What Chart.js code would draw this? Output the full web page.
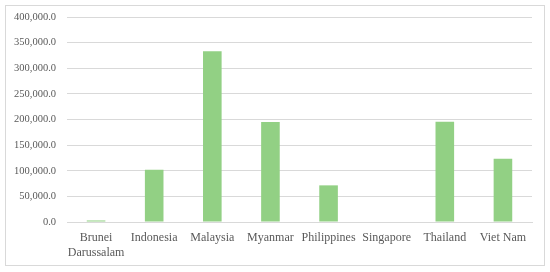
<!DOCTYPE html>
<html>
<head>
<meta charset="utf-8">
<script src="https://cdn.jsdelivr.net/npm/chart.js@4/dist/chart.umd.min.js"></script>
<style>
  html, body { margin: 0; padding: 0; background: #fff; }
  #box {
    position: absolute; left: 5px; top: 5px;
    width: 538px; height: 259px;
    border: 1px solid #d9d9d9;
  }
</style>
</head>
<body>
<div id="box"><canvas id="barChart"></canvas></div>
<script>
// countries on the x axis
var countries = [['Brunei', 'Darussalam'], 'Indonesia', 'Malaysia', 'Myanmar', 'Philippines', 'Singapore', 'Thailand', 'Viet Nam'];
// values
var values = [3000, 102000, 333000, 195000, 71500, 0, 195500, 123500];
// y axis ticks
var yMin = 0;
var yMax = 400000;
var yStep = 50000;

var textColor = '#595959';
var gridColor = '#d9d9d9';
var serif = '"Liberation Serif", "DejaVu Serif", serif';

var ctx = document.getElementById('barChart').getContext('2d');
var chart = new Chart(ctx, {
    type: 'bar',
    data: {
        labels: countries,
        datasets: [{
            label: 'Value',
            data: values,
            backgroundColor: 'rgb(146, 208, 132)',
            borderWidth: 0,
            categoryPercentage: 1.0,
            barPercentage: 0.32
        }]
    },
    options: {
        responsive: true,
        maintainAspectRatio: false,
        animation: false,
        layout: { padding: { left: 0, right: 12, top: 11, bottom: 0 } },
        plugins: {
            legend: { display: false },
            tooltip: { enabled: false }
        },
        scales: {
            x: {
                grid: { display: false, drawTicks: false },
                border: { display: true, color: gridColor, width: 1 },
                ticks: {
                    color: textColor,
                    font: { family: serif, size: 12, lineHeight: 1.22 },
                    padding: 9,
                    maxRotation: 0,
                    autoSkip: false
                },
                afterFit: function (axis) {
                    // fixed height, no overflow padding
                    axis.height = 43;
                    axis.paddingLeft = 0;
                    axis.paddingRight = 0;
                }
            },
            y: {
                min: yMin,
                max: yMax,
                grid: { color: gridColor, lineWidth: 1, drawTicks: false },
                border: { display: false },
                ticks: {
                    stepSize: yStep,
                    color: textColor,
                    font: { family: serif, size: 10.5 },
                    padding: 11,
                    callback: function (v) {
                        return v.toLocaleString('en-US', { minimumFractionDigits: 1, maximumFractionDigits: 1 });
                    }
                },
                afterFit: function (axis) {
                    axis.width = 61;
                    axis.paddingTop = 0;
                    axis.paddingBottom = 0;
                }
            }
        }
    }
});
</script>
</body>
</html>
